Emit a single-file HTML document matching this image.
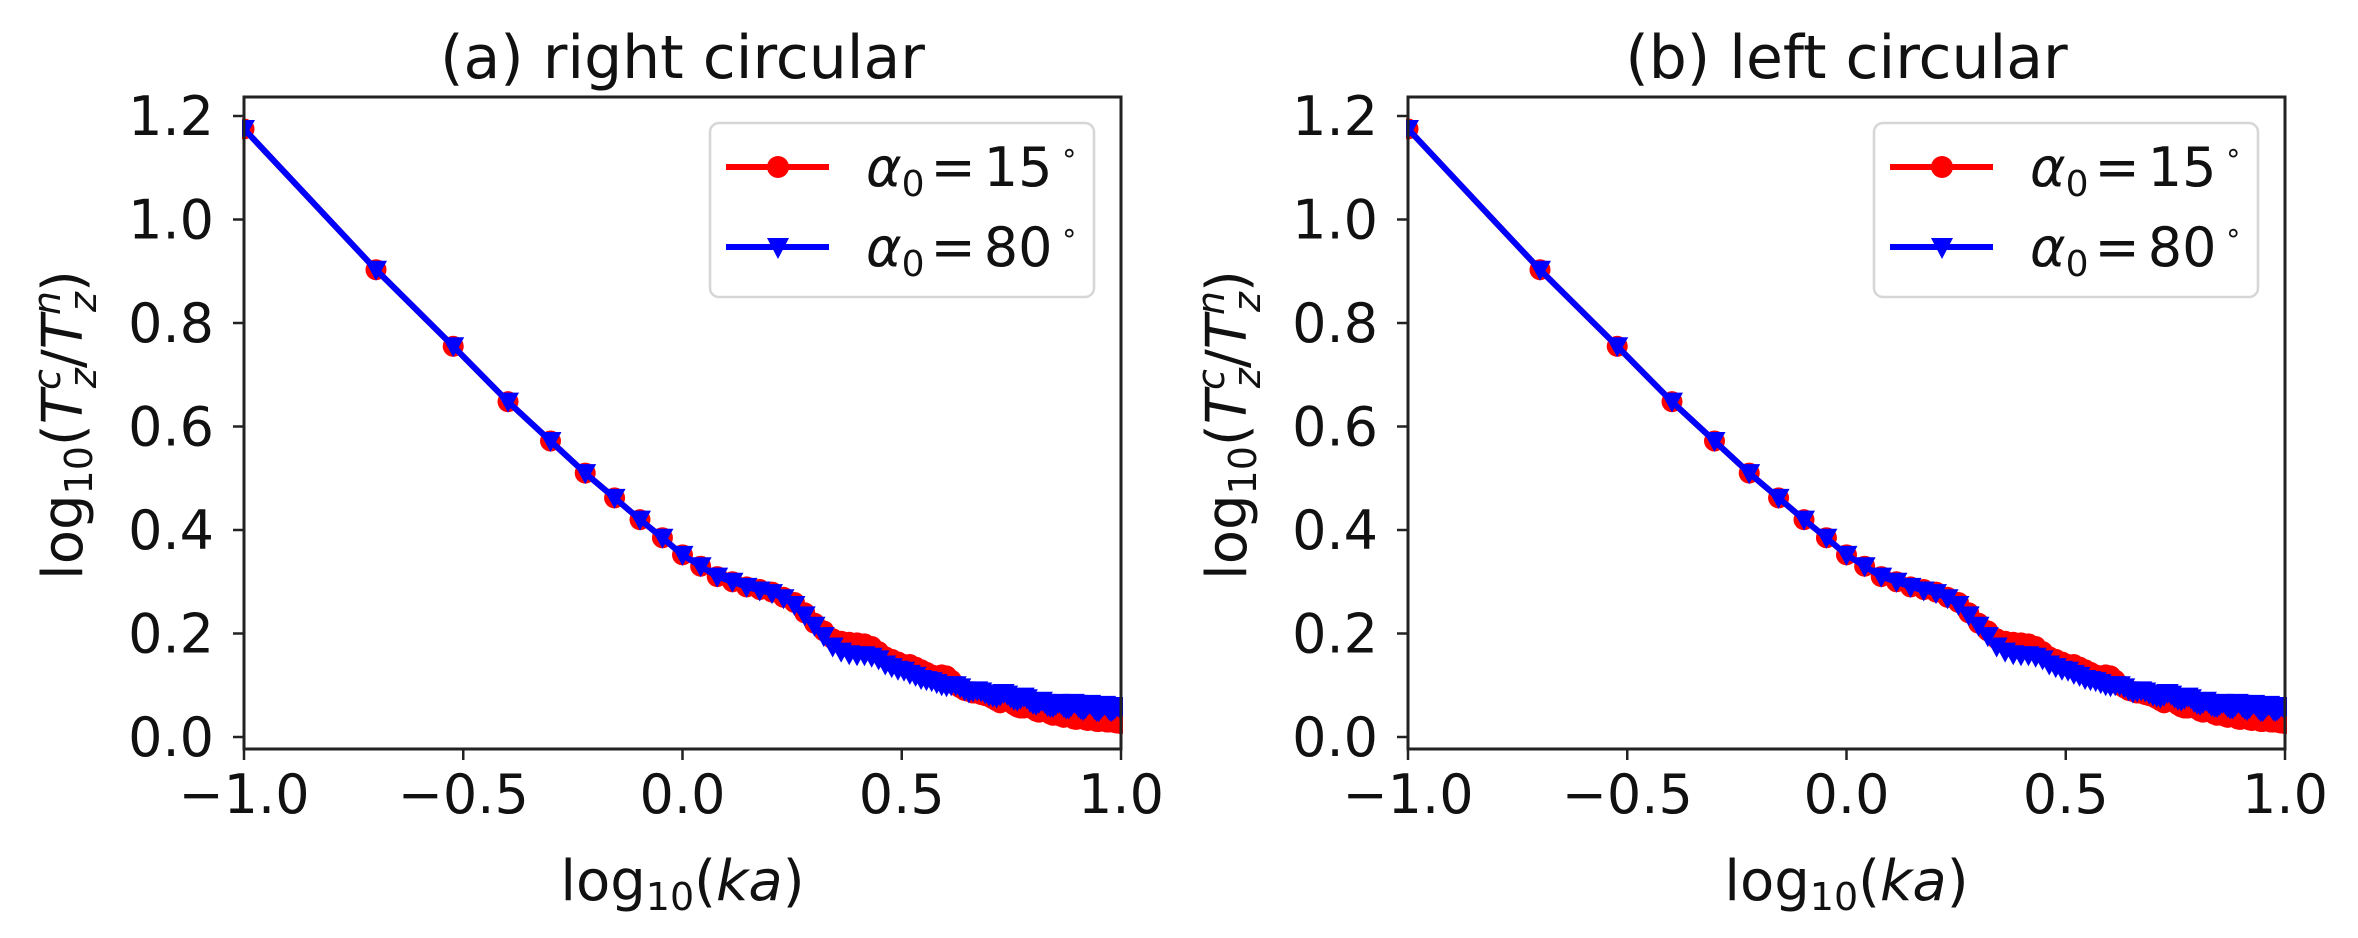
<!DOCTYPE html>
<html><head><meta charset="utf-8"><style>
html,body{margin:0;padding:0;background:#fff;}
svg{display:block;font-family:"DejaVu Sans","Liberation Sans",sans-serif;}
</style></head><body>
<svg id="fig" width="2358" height="938" viewBox="0 0 2358 938"></svg>
<script>
const kaValues = [0.1,0.2,0.3,0.4,0.5,0.6,0.7,0.8,0.9,1.0,1.1,1.2,1.3,1.4,1.5,1.6,1.7,1.8,1.9,2.0,2.1,2.2,2.3,2.4,2.5,2.6,2.7,2.8,2.9,3.0,3.1,3.2,3.3,3.4,3.5,3.6,3.7,3.8,3.9,4.0,4.1,4.2,4.3,4.4,4.5,4.6,4.7,4.8,4.9,5.0,5.1,5.2,5.3,5.4,5.5,5.6,5.7,5.8,5.9,6.0,6.1,6.2,6.3,6.4,6.5,6.6,6.7,6.8,6.9,7.0,7.1,7.2,7.3,7.4,7.5,7.6,7.7,7.8,7.9,8.0,8.1,8.2,8.3,8.4,8.5,8.6,8.7,8.8,8.9,9.0,9.1,9.2,9.3,9.4,9.5,9.6,9.7,9.8,9.9,10.0];
const series15 = [1.175,0.903,0.755,0.648,0.572,0.51,0.462,0.42,0.385,0.352,
0.33,0.31,0.30,0.29,0.285,0.28,0.27,0.26,0.24,0.22,
0.205,0.19,0.185,0.183,0.182,0.18,0.175,0.165,0.155,0.15,
0.145,0.14,0.14,0.135,0.13,0.125,0.12,0.118,0.12,0.118,
0.11,0.1,0.095,0.09,0.088,0.085,0.085,0.082,0.08,0.078,
0.074,0.07,0.066,0.07,0.072,0.068,0.062,0.058,0.056,0.056,
0.06,0.058,0.054,0.05,0.048,0.05,0.052,0.048,0.044,0.042,
0.045,0.044,0.04,0.038,0.04,0.042,0.038,0.035,0.034,0.036,
0.04,0.036,0.033,0.032,0.034,0.034,0.032,0.03,0.03,0.032,
0.033,0.03,0.029,0.029,0.03,0.03,0.028,0.027,0.027,0.026];
const series80 = [1.175,0.903,0.755,0.648,0.572,0.51,0.462,0.42,0.385,0.352,
0.33,0.31,0.30,0.29,0.283,0.278,0.268,0.255,0.235,0.215,
0.195,0.175,0.165,0.16,0.158,0.158,0.155,0.15,0.14,0.135,
0.13,0.128,0.122,0.118,0.112,0.11,0.108,0.104,0.1,0.098,
0.1,0.1,0.096,0.09,0.086,0.088,0.09,0.088,0.084,0.08,
0.078,0.076,0.08,0.085,0.082,0.076,0.072,0.07,0.074,0.078,
0.075,0.068,0.064,0.062,0.066,0.07,0.066,0.06,0.058,0.058,
0.062,0.066,0.064,0.058,0.055,0.055,0.06,0.066,0.064,0.058,
0.054,0.052,0.056,0.062,0.064,0.06,0.054,0.05,0.05,0.055,
0.06,0.062,0.058,0.052,0.05,0.052,0.056,0.06,0.058,0.055];
const xTickValues = [-1.0,-0.5,0.0,0.5,1.0];
const xTickLabels = ["\u22121.0","\u22120.5","0.0","0.5","1.0"];
const yTickValues = [0.0,0.2,0.4,0.6,0.8,1.0,1.2];
const yTickLabels = ["0.0","0.2","0.4","0.6","0.8","1.0","1.2"];
const panelTitles = ["(a) right circular","(b) left circular"];

const NS="http://www.w3.org/2000/svg";
const svg=document.getElementById('fig');
function mk(tag,attrs,parent){const e=document.createElementNS(NS,tag);for(const k in attrs)e.setAttribute(k,attrs[k]);(parent||svg).appendChild(e);return e;}

function panel(idx,offX){
  const L=244+offX,R=1121+offX,T=97,B=749;
  const xs=v=>L+(v+1)/2*(R-L);
  const y0=737,per=517.5;
  const ys=v=>y0-v*per;
  const g=mk('g',{});
  
  
  const cp='clip'+idx;
  const defs=mk('defs',{},g);
  const c=mk('clipPath',{id:cp},defs);mk('rect',{x:L-2,y:T-2,width:R-L+4,height:B-T+4},c);
  const t=mk('text',{x:(L+R)/2,y:78,'text-anchor':'middle','font-size':60,fill:'#111'},g);
  t.textContent=panelTitles[idx];
  
  
  const serList=[[series15,'#ff0000','circle'],[series80,'#0000ff','tri']];
  serList.forEach(([data,col,m],si)=>{
    const sg=mk('g',{'clip-path':'url(#'+cp+')'},g);
    
    
    const pts=kaValues.map((k,i)=>xs(Math.log10(k)).toFixed(1)+','+ys(data[i]).toFixed(1)).join(' ');
    mk('polyline',{points:pts,fill:'none',stroke:col,'stroke-width':6,'stroke-linejoin':'round'},sg);
    kaValues.forEach((k,i)=>{
      const px=xs(Math.log10(k)),py=ys(data[i]);
      let e;
      if(m==='circle'){e=mk('circle',{cx:px,cy:py,r:10.5,fill:col},sg);}
      else{e=mk('polygon',{points:`${px-11},${py-9} ${px+11},${py-9} ${px},${py+11}`,fill:col},sg);}
      
      
    });
  });
  const fr=mk('rect',{x:L,y:T,width:R-L,height:B-T,fill:'none',stroke:'#222','stroke-width':3},g);
  
  
  xTickValues.forEach((v,i)=>{
    const x=xs(v);
    mk('line',{x1:x,y1:B,x2:x,y2:B+11,stroke:'#222','stroke-width':2.5},g);
    const tx=mk('text',{x:x,y:813,'text-anchor':'middle','font-size':54,fill:'#111'},g);
    tx.textContent=xTickLabels[i];
    
    
  });
  yTickValues.forEach((v,i)=>{
    const y=ys(v);
    mk('line',{x1:L-11,y1:y,x2:L,y2:y,stroke:'#222','stroke-width':2.5},g);
    const tx=mk('text',{x:L-30,y:y+19,'text-anchor':'end','font-size':54,fill:'#111'},g);
    tx.textContent=yTickLabels[i];
    
    
  });
  const xl=mk('text',{x:(L+R)/2,y:900,'text-anchor':'middle','font-size':56,fill:'#111'},g);
  xl.innerHTML='log<tspan font-size="38" dy="10">10</tspan><tspan dy="-10">(</tspan><tspan font-style="italic">ka</tspan>)';
  
  
  const yl=mk('text',{x:0,y:0,'text-anchor':'middle','font-size':56,fill:'#111',transform:`translate(${82+offX},425) rotate(-90)`},g);
  yl.innerHTML='log<tspan font-size="38" dy="10">10</tspan><tspan dy="-10">(</tspan><tspan font-style="italic">T</tspan><tspan font-size="38" font-style="italic" dy="-22">c</tspan><tspan font-size="38" font-style="italic" dx="-19" dy="36">z</tspan><tspan dy="-14">/</tspan><tspan font-style="italic">T</tspan><tspan font-size="38" font-style="italic" dy="-22">n</tspan><tspan font-size="38" font-style="italic" dx="-21" dy="36">z</tspan><tspan dy="-14">)</tspan>';
  
  
  const lg=mk('g',{},g);
  
  
  const LX=710+offX;
  mk('rect',{x:LX,y:123,width:384,height:174,rx:9,fill:'#fff',stroke:'#d6d6d6','stroke-width':2.5},lg);
  [['15','#ff0000','circle',167],['80','#0000ff','tri',247]].forEach(([lab,col,m,ry])=>{
    const eg=mk('g',{},lg);
    
    
    mk('line',{x1:LX+16,y1:ry,x2:LX+119,y2:ry,stroke:col,'stroke-width':6},eg);
    const mx=LX+68;
    if(m==='circle')mk('circle',{cx:mx,cy:ry,r:11,fill:col},eg);
    else mk('polygon',{points:`${mx-11},${ry-9} ${mx+11},${ry-9} ${mx},${ry+12}`,fill:col},eg);
    const tt=mk('text',{x:LX+156,y:ry+19,'font-size':54,fill:'#111'},eg);
    tt.innerHTML='<tspan font-style="italic">α</tspan><tspan font-size="36" dy="10">0</tspan><tspan dy="-10" dx="6">=</tspan><tspan dx="8">'+lab+'</tspan><tspan font-size="28" dx="8" dy="-24">∘</tspan>';
  });
}
panel(0,0);
panel(1,1164);
</script>
</body></html>
